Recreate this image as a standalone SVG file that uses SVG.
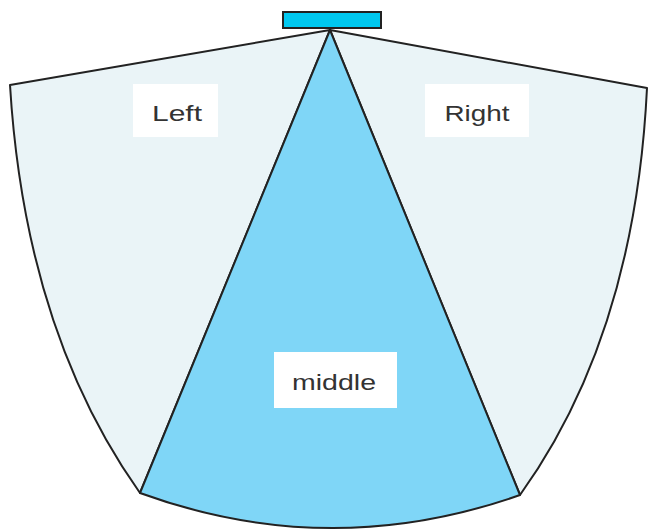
<svg xmlns="http://www.w3.org/2000/svg" width="655" height="530" viewBox="0 0 655 530">
<style>
.side{fill:#eaf4f7;stroke:#222;stroke-width:2;stroke-linejoin:round}
.mid{fill:#7fd6f7;stroke:#222;stroke-width:2;stroke-linejoin:round}
.lbl{fill:#fff;stroke:none}
.txt{font-family:"Liberation Sans",Arial,sans-serif;font-size:22px;fill:#333;text-anchor:middle}
</style>
<rect width="655" height="530" fill="#fff"/>
<g id="left">
<path class="side" d="M330,30 L10,85 Q25,331 140,493 Z"/>
<rect class="lbl" x="133" y="84" width="85" height="53"/>
<text class="txt" x="177" y="121" textLength="50" lengthAdjust="spacingAndGlyphs">Left</text>
</g>
<g id="right">
<path class="side" d="M330,30 L647,88 Q635,335 520,495 Z"/>
<rect class="lbl" x="425" y="84" width="104" height="53"/>
<text class="txt" x="477" y="121" textLength="65" lengthAdjust="spacingAndGlyphs">Right</text>
</g>
<g id="middle">
<path class="mid" d="M330,30 L140,493 Q330,562 520,495 Z"/>
<rect class="lbl" x="274" y="352" width="123" height="56"/>
<text class="txt" x="334" y="390" textLength="84" lengthAdjust="spacingAndGlyphs">middle</text>
</g>
<g id="sensor">
<rect x="283" y="12" width="98" height="16" fill="#00c8f0" stroke="#222" stroke-width="2"/>
</g>
<g id="connectors"></g>
</svg>
